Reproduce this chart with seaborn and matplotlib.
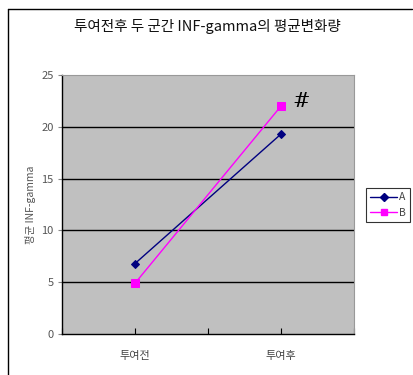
import matplotlib
matplotlib.use("Agg")
import matplotlib.pyplot as plt
from matplotlib.lines import Line2D
import seaborn as sns
import pandas as pd

sns.set_theme(style="white")
plt.rcParams['font.family'] = ['Noto Sans CJK KR', 'DejaVu Sans']

periods = ["투여전", "투여후"]
group_a = [6.8, 19.3]
group_b = [4.9, 22.0]
y_ticks = [0, 5, 10, 15, 20, 25]

df = pd.DataFrame({
    "period": periods * 2,
    "x": [0, 1, 0, 1],
    "value": group_a + group_b,
    "group": ["A", "A", "B", "B"],
})

W, H = 414, 375
fig = plt.figure(figsize=(W / 100, H / 100), dpi=100)
ax = fig.add_axes([62 / W, 1 - 334 / H, (354 - 62) / W, (334 - 75) / H])
ax.set_facecolor("#C0C0C0")

palette = {"A": "#000080", "B": "#FF00FF"}
markers = {"A": "D", "B": "s"}
for g, sub in df.groupby("group"):
    sns.lineplot(data=sub, x="x", y="value", ax=ax, color=palette[g],
                 marker=markers[g], markersize=4.5 if g == "A" else 5.5,
                 markeredgecolor=palette[g], linewidth=1.0, legend=False)

ax.set_xlim(-0.5, 1.5)
ax.set_ylim(0, 25)
ax.set_yticks(y_ticks)
ax.set_yticklabels([str(t) for t in y_ticks], fontsize=8, color="#555555")
ax.set_xticks([0, 1])
ax.set_xticklabels(periods, fontsize=8, color="#444444")
ax.set_xticks([-0.5, 0.5, 1.5], minor=True)
ax.tick_params(axis="x", which="both", direction="in", length=4, width=0.8,
               color="black", pad=12, bottom=True)
ax.tick_params(axis="y", which="both", direction="out", length=3, width=0.8,
               color="#888888", pad=3, left=True)
for t in y_ticks[1:-1]:
    ax.axhline(t, color="black", linewidth=1.0, zorder=0.5)
for side in ["left", "bottom"]:
    ax.spines[side].set_color("black")
    ax.spines[side].set_linewidth(1.0)
for side in ["top", "right"]:
    ax.spines[side].set_color("#999999")
    ax.spines[side].set_linewidth(0.8)

ax.set_xlabel("")
ax.set_ylabel("평균 INF-gamma", fontsize=7.5, color="#555555", labelpad=4)

ax.text(1.08, group_b[1] + 0.4, "#", fontsize=15,
        family="DejaVu Serif", color="black", ha="left", va="center")

fig.text(207 / W, 1 - 27 / H, "투여전후 두 군간 INF-gamma의 평균변화량",
         fontsize=10.5, ha="center", va="center", color="#111111")

handles = [Line2D([0], [0], color=palette[g], marker=markers[g], markersize=4,
                  linewidth=1.0, label=g) for g in ["A", "B"]]
leg = fig.legend(handles=handles, loc="center left",
                 bbox_to_anchor=(366 / W, 1 - 205 / H), fontsize=7.5,
                 frameon=True, fancybox=False, edgecolor="black",
                 handlelength=2.6, handletextpad=0.2, borderpad=0.4,
                 labelspacing=0.5, borderaxespad=0)
leg.get_frame().set_linewidth(0.8)
for t in leg.get_texts():
    t.set_color("#444444")

# outer chart frame
fig.add_artist(Line2D([8 / W, 412 / W], [1 - 9 / H, 1 - 9 / H],
                      transform=fig.transFigure, color="black", linewidth=1.0))
fig.add_artist(Line2D([8 / W, 8 / W], [1 - 9 / H, 0], transform=fig.transFigure,
                      color="black", linewidth=1.0))

fig.savefig("out.png", dpi=100, facecolor="white")
